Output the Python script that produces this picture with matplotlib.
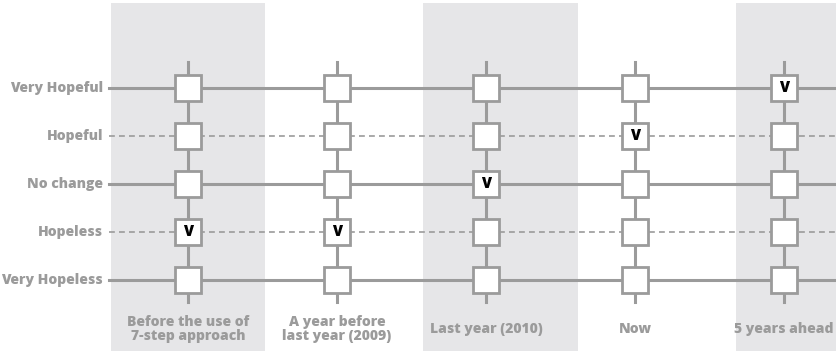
import matplotlib.pyplot as plt

# categories
periods = ["Before the use of\n7-step approach", "A year before\nlast year (2009)",
           "Last year (2010)", "Now", "5 years ahead"]
levels = ["Very Hopeless", "Hopeless", "No change", "Hopeful", "Very Hopeful"]
# level chosen for each period
answers = ["Hopeless", "Hopeless", "No change", "Hopeful", "Very Hopeful"]
shaded = [True, False, True, False, True]
dashed = [False, True, False, True, False]

GRAY = "#9b9b9b"
SHADE = "#e6e6e8"
FONT = ["Open Sans", "DejaVu Sans"]


def main():
	fig = plt.figure(figsize=(8.37, 3.51), dpi=100)
	ax = fig.add_axes([0, 0, 1, 1])
	ax.set_xlim(-1.262, 4.356)
	ax.set_ylim(-1.479, 5.833)
	ax.axis("off")

	# background bands (drift slightly right of the columns, like the original)
	for i, s in enumerate(shaded):
		if s:
			c = i + 0.05 * i
			ax.axvspan(c - 0.52, c + 0.52, ymin=0, ymax=(5.77 + 1.479) / (5.833 + 1.479),
			           color=SHADE, lw=0, zorder=0)

	# horizontal lines and row labels
	for j, name in enumerate(levels):
		ls = (0, (3.5, 2.5)) if dashed[j] else "-"
		lw = 1.2 if dashed[j] else 2.2
		ax.plot([-0.53, 4.5], [j, j], color=GRAY, lw=lw, ls=ls, zorder=1)
		ax.text(-0.57, j, name, ha="right", va="center", color=GRAY,
		        fontsize=10, fontweight="heavy", family=FONT)

	# vertical lines, boxes, column labels
	for i, name in enumerate(periods):
		ax.plot([i, i], [-0.46, len(levels) - 1 + 0.54], color=GRAY, lw=2.2, zorder=2)
		ax.plot([i] * len(levels), range(len(levels)), ls="none", marker="s",
		        markersize=18.5, mfc="white", mec=GRAY, mew=2.0, zorder=3)
		ax.text(i, -1.02, name, ha="center", va="center", color=GRAY,
		        fontsize=10, fontweight="heavy", family=FONT, linespacing=1.05)
		ax.text(i, levels.index(answers[i]), "V", ha="center", va="center",
		        color="black", fontsize=10.5, fontweight="heavy", family=FONT, zorder=4)

	fig.savefig("out.png", dpi=100)


if __name__ == "__main__":
	main()
